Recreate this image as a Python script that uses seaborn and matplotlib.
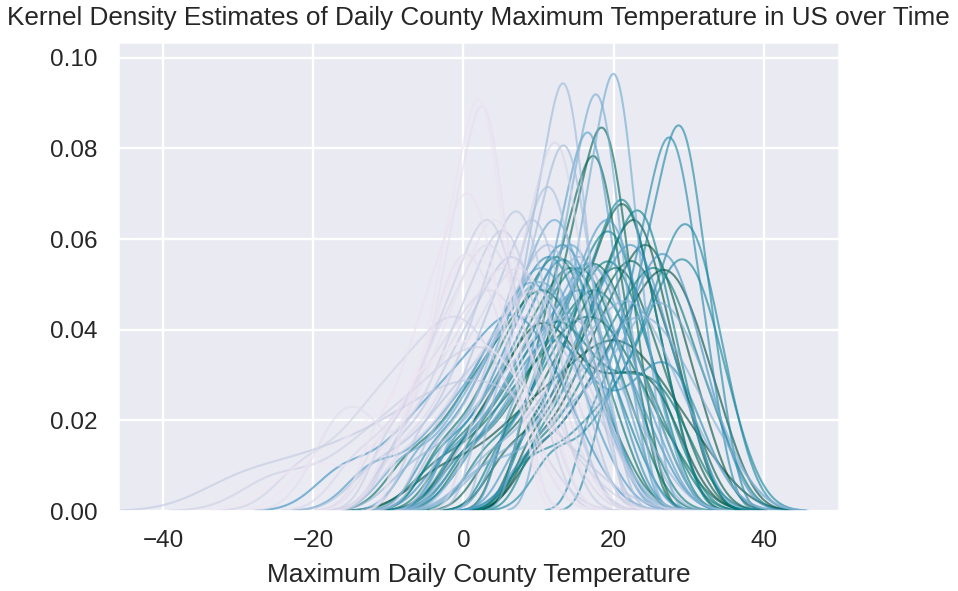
import numpy as np
import pandas as pd
import seaborn as sns
import matplotlib
matplotlib.use("Agg")
import matplotlib.pyplot as plt

# Representative daily county maximum temperatures (deg C) per time period,
# ordered from the earliest (lightest colour) to the latest (darkest colour).
pale_periods = [
    [-22, -15, -10.8, -7.7, -4.9, -2.2, -0.2, 1.6, 3.6, 5.7, 8.5, 13.3],
    [-20, -12, -7, -4.5, -2.5, -0.8, 0.5, 1.5, 2.7, 3.9, 5.6, 8.4],
    [-7.5, -4.5, -2.8, -1.6, -0.4, 0.7, 1.5, 2.3, 3.1, 4.0, 5.1, 7.0],
    [-11.7, -8, -5.8, -4.1, -2.6, -1.2, -0.1, 0.9, 1.9, 3.1, 4.6, 7.1],
    [-9.3, -5.2, -2.8, -0.9, 0.7, 2.3, 3.5, 4.5, 5.7, 6.9, 8.6, 11.4],
    [-7.2, -4.2, -2.4, -1.1, 0, 1.2, 2, 2.8, 3.6, 4.5, 5.7, 7.7],
    [-18, -15, -12, -5, -3, -1.5, -0.5, 0.5, 1.8, 3.2, 5, 8],
    [-10.7, -5.8, -2.9, -0.7, 1.3, 3.1, 4.6, 5.8, 7.2, 8.7, 10.7, 14],
    [-11.4, -6.9, -4.3, -2.3, -0.5, 1.2, 2.5, 3.7, 4.9, 6.3, 8.1, 11.1],
    [-8.7, -3.8, -0.9, 1.3, 3.3, 5.1, 6.6, 7.8, 9.2, 10.7, 12.7, 16],
    [-14.2, -8.8, -5.6, -3.2, -1, 1.1, 2.6, 4, 5.5, 7.2, 9.4, 13],
    [1.6, 4.8, 6.8, 8.2, 9.5, 10.7, 11.7, 12.5, 13.4, 14.4, 15.7, 17.9],
    [-8.2, -2.8, 0.4, 2.8, 5, 7.1, 8.6, 10, 11.5, 13.2, 15.4, 19],
    [-21.4, -15.2, -11.6, -8.9, -6.4, -4.1, -2.3, -0.7, 1, 2.9, 5.3, 9.5],
]

light_blue_periods = [
    [-25, -16, -11, -7.5, -4.5, -1.5, 0.5, 2.3, 4.3, 6.4, 9.2, 14],
    [-10.3, -6.2, -3.8, -1.9, -0.3, 1.3, 2.5, 3.5, 4.7, 5.9, 7.6, 10.4],
    [-8.7, -4.5, -2, 0, 1.6, 3.3, 4.5, 5.6, 6.8, 8.1, 9.8, 12.7],
    [-30, -22, -16, -11, -7, -4, -1, 1.5, 4, 6.5, 10, 15],
    [-9, -4.4, -1.6, 0.5, 2.4, 4.2, 5.6, 6.8, 8.1, 9.5, 11.4, 14.6],
    [-6, -2, 0.5, 2.5, 4, 5.5, 6.6, 7.6, 8.7, 9.9, 11.8, 14.8],
    [-11.4, -5.2, -1.6, 1.1, 3.6, 5.9, 7.7, 9.3, 11, 12.9, 15.3, 19.5],
    [-4.3, -0.2, 2.2, 4.1, 5.7, 7.3, 8.5, 9.5, 10.7, 11.9, 13.6, 16.4],
    [-2, 2.5, 4.8, 6.6, 8.2, 9.6, 10.7, 11.6, 12.5, 13.6, 15.2, 17.8],
    [-3.4, 1.1, 3.7, 5.7, 7.5, 9.2, 10.5, 11.7, 12.9, 14.3, 16.1, 19.1],
    [2.6, 5.8, 7.8, 9.3, 10.6, 11.9, 12.8, 13.6, 14.6, 15.5, 16.9, 19.1],
    [4.1, 6.9, 8.6, 9.8, 10.9, 12.1, 12.8, 13.5, 14.3, 15.2, 16.3, 18.2],
    [-6.4, -0.2, 3.4, 6.1, 8.6, 10.9, 12.7, 14.3, 16, 17.9, 20.3, 24.5],
    [0, 4.6, 7.4, 9.5, 11.4, 13.2, 14.6, 15.8, 17.1, 18.5, 20.4, 23.6],
    [1.3, 6.2, 9.1, 11.3, 13.3, 15.1, 16.6, 17.8, 19.2, 20.7, 22.7, 26],
    [3, 8.6, 12, 14.5, 16.8, 19, 20.7, 22.1, 23.7, 25.4, 27.7, 31.6],
    [3.6, 9.8, 13.4, 16.1, 18.6, 20.9, 22.7, 24.3, 26, 27.9, 30.3, 34.5],
    [3, 10, 14.2, 17.3, 20.1, 22.8, 24.5, 25.8, 27.2, 28.8, 30.8, 34],
    [8.3, 11.2, 12.9, 14.2, 15.3, 16.4, 17.2, 18.0, 18.7, 19.7, 20.8, 22.7],
    [11.0, 13.7, 15.4, 16.6, 17.6, 18.8, 19.5, 20.2, 21.0, 21.8, 22.9, 24.8],
]

mid_blue_periods = [
    [-1.3, 2.8, 5.2, 7.1, 8.7, 10.3, 11.5, 12.5, 13.7, 14.9, 16.6, 19.4],
    [-8, -2, 1.5, 4, 6, 8, 9.5, 10.8, 12.2, 13.8, 16, 19.5],
    [-0.4, 4.1, 6.7, 8.7, 10.5, 12.2, 13.5, 14.7, 15.9, 17.3, 19.1, 22.1],
    [-5.7, -0.8, 2.1, 4.3, 6.3, 8.1, 9.6, 10.8, 12.2, 13.7, 15.7, 19],
    [6.1, 9.3, 11.3, 12.7, 14.0, 15.2, 16.0, 16.9, 17.8, 18.7, 20.0, 22.2],
    [0.5, 5.5, 8.5, 10.8, 12.8, 14.6, 16, 17.2, 18.5, 20, 22, 25.5],
    [5.7, 9.8, 12.2, 14.1, 15.7, 17.3, 18.5, 19.5, 20.7, 21.9, 23.6, 26.4],
    [-12, -5, -1, 2, 4.5, 6.5, 8, 9.2, 10.5, 12, 14, 17.5],
    [7.6, 12.1, 14.7, 16.7, 18.5, 20.2, 21.5, 22.7, 23.9, 25.3, 27.1, 30.1],
    [8.8, 14.2, 17.4, 19.8, 22, 24.1, 25.4, 26.5, 27.7, 29, 30.7, 33.5],
    [-16, -9, -5, -2, 0.5, 3, 5, 6.5, 8, 9.8, 12, 15.5],
    [-2.2, 3.2, 6.4, 8.8, 11, 13.1, 14.6, 16, 17.5, 19.2, 21.4, 25],
]

teal_periods = [
    [-1.4, 3.1, 5.7, 7.7, 9.5, 11.2, 12.5, 13.7, 14.9, 16.3, 18.1, 21.1],
    [-4, 0.6, 3.4, 5.5, 7.4, 9.2, 10.6, 11.8, 13.1, 14.5, 16.4, 19.6],
    [2, 6, 9, 11, 12.5, 14, 17, 21, 25, 26.5, 28, 30.5],
    [16.9, 20.1, 22.1, 23.6, 24.9, 26.1, 26.9, 27.8, 28.7, 29.7, 31.0, 33.1],
    [18.6, 21.6, 23.5, 24.8, 26.1, 27.3, 28.1, 29.0, 29.8, 30.8, 32.0, 34.1],
    [12, 17.5, 21, 23.5, 25.5, 27.3, 28.5, 29.5, 30.5, 31.6, 33, 35.5],
    [9, 15, 19, 22, 24.5, 26.5, 27.8, 29, 30.2, 31.4, 33, 35.5],
    [-3, 2, 5, 7.5, 9.5, 11.2, 12.6, 13.8, 15, 16.5, 18.5, 22],
    [8.5, 12.4, 14.6, 16.3, 17.9, 19.3, 20.5, 21.4, 22.5, 23.7, 25.2, 27.8],
    [10.1, 14.1, 16.4, 18.2, 19.8, 21.3, 22.5, 23.5, 24.6, 25.8, 27.4, 30.1],
    [5.3, 9.5, 12, 13.9, 15.6, 17.3, 18.5, 19.6, 20.8, 22.1, 23.8, 26.7],
    [3, 8, 11, 13.3, 15.3, 17.1, 18.5, 19.7, 21, 22.4, 24.4, 27.8],
    [-0.7, 4.2, 7.1, 9.3, 11.3, 13.1, 14.6, 15.8, 17.2, 18.7, 20.7, 24],
    [9.3, 14.2, 17.1, 19.3, 21.3, 23.1, 24.6, 25.8, 27.2, 28.7, 30.7, 34],
    [-0.2, 5.2, 8.4, 10.8, 13, 15.1, 16.6, 18, 19.5, 21.2, 23.4, 27],
    [1, 5, 8, 10.5, 12, 13.5, 15, 18, 21, 24, 26, 29],
]

dark_green_periods = [
    [-3, 1.6, 4.4, 6.5, 8.4, 10.2, 11.6, 12.8, 14.1, 15.5, 17.4, 20.6],
    [-1.7, 3.2, 6.1, 8.3, 10.3, 12.1, 13.6, 14.8, 16.2, 17.7, 19.7, 23],
    [1, 6, 9, 11.5, 13.5, 15.3, 16.7, 17.9, 19.2, 20.7, 22.7, 26],
    [-7.2, -1.8, 1.4, 3.8, 6, 8.1, 9.6, 11, 12.5, 14.2, 16.4, 20],
    [-3.4, 2.8, 6.4, 9.1, 11.6, 13.9, 15.7, 17.3, 19, 20.9, 23.3, 27.5],
    [6.1, 9.6, 11.6, 13.1, 14.4, 15.8, 16.7, 17.6, 18.5, 19.5, 20.9, 23.3],
    [8.3, 11.3, 13.2, 14.5, 15.8, 17.0, 17.8, 18.7, 19.6, 20.5, 21.7, 23.8],
    [4.3, 9.2, 12.1, 14.3, 16.3, 18.1, 19.6, 20.8, 22.2, 23.7, 25.7, 29],
    [6, 11, 14, 16.3, 18.3, 20.1, 21.5, 22.7, 24, 25.5, 27.3, 30.5],
    [8.3, 12.2, 14.5, 16.3, 17.8, 19.3, 20.5, 21.5, 22.5, 23.7, 25.3, 27.9],
    [9.2, 13.3, 15.7, 17.6, 19.2, 20.8, 22, 23, 24.2, 25.4, 27.1, 29.9],
    [9.6, 14.1, 16.7, 18.7, 20.5, 22.2, 23.5, 24.7, 25.9, 27.3, 29.1, 32.1],
    [9.9, 14.9, 17.9, 20.2, 22.2, 24.1, 25.6, 26.9, 28.3, 29.8, 31.5, 34.5],
    [-3, 4, 8.2, 11.3, 14.1, 16.8, 18.8, 20.6, 22.6, 24.7, 27.5, 32],
    [0, 4, 7, 9, 10.5, 12, 14, 17, 20, 23, 25, 27.5],
]

periods = pale_periods + light_blue_periods + mid_blue_periods + teal_periods + dark_green_periods

df = pd.DataFrame({
    "period": np.concatenate([[i] * len(p) for i, p in enumerate(periods)]),
    "tmax": np.concatenate(periods),
})

sns.set_theme(context="talk", style="darkgrid")
plt.rcParams["font.family"] = ["Liberation Sans", "DejaVu Sans"]
plt.rcParams["ytick.major.pad"] = plt.rcParams["ytick.major.pad"] + 2
plt.rcParams["xtick.major.pad"] = plt.rcParams["xtick.major.pad"] + 1
plt.rcParams["grid.linewidth"] = 1.7

fig = plt.figure(figsize=(9.58, 5.91), dpi=100)
ax = fig.add_axes([118 / 958, 1 - 511 / 591, 721 / 958, 469 / 591])

sns.kdeplot(data=df, x="tmax", hue="period", palette="PuBuGn",
            hue_norm=(-8, len(periods) - 1),
            common_norm=False, bw_adjust=0.7, alpha=0.62, linewidth=1.5,
            legend=False, ax=ax)

ax.set_xlim(-46, 50)
ax.set_ylim(0, 0.1035)
ax.tick_params(labelsize=17.5)
ax.set_xlabel("Maximum Daily County Temperature", fontsize=18.9, labelpad=8)
ax.set_ylabel("")
ax.set_title("Kernel Density Estimates of Daily County Maximum Temperature in US over Time",
             fontsize=18.8, pad=12)

fig.savefig("out.png", dpi=100)
